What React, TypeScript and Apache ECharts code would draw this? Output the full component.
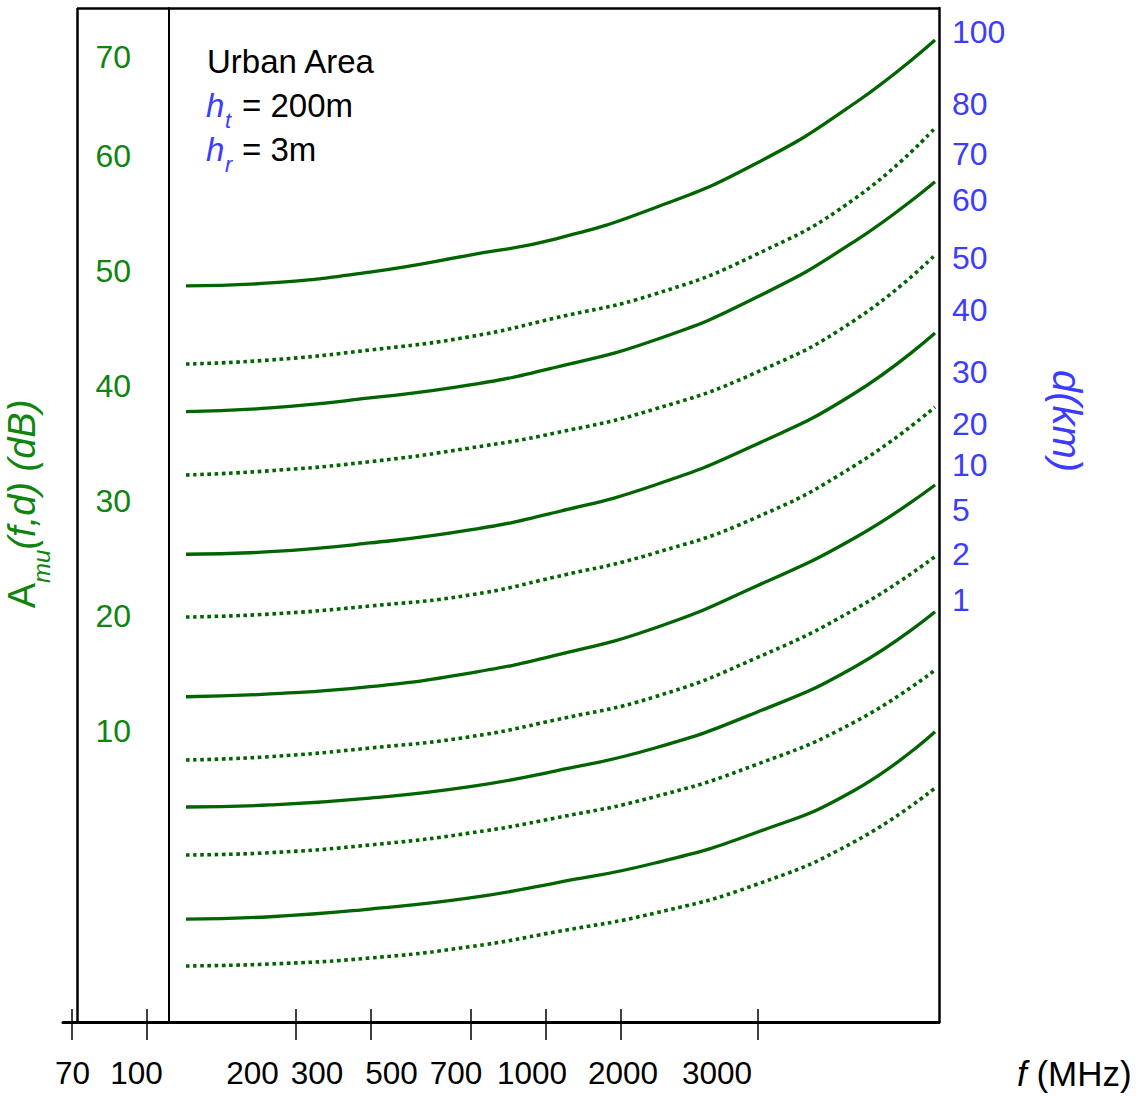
import React, { useEffect, useRef } from "react";
import * as echarts from "echarts";

// ---------- data ----------
// Horizontal position along the (non-linear) frequency axis, in axis units.
const curveX = [17, 101, 201, 301, 386, 486, 586, 686, 766];

// Median attenuation A_mu(f,d) in dB for each distance d (km)
const d100 = [48.7, 48.96, 49.91, 51.39, 52.78, 55.5, 59.3, 64.61, 70.09];
const d80 = [41.91, 42.26, 43.13, 44.29, 45.91, 48.0, 51.39, 56.3, 62.43];
const d70 = [37.77, 38.09, 38.96, 40.09, 41.61, 44.0, 47.65, 52.6, 57.77];
const d60 = [32.26, 32.63, 33.42, 34.61, 35.91, 38.0, 41.13, 45.74, 51.39];
const d50 = [25.37, 25.59, 26.35, 27.48, 29.0, 31.39, 34.87, 39.39, 44.61];
const d40 = [19.91, 20.17, 20.87, 21.83, 23.39, 25.48, 28.52, 33.1, 38.17];
const d30 = [12.98, 13.22, 13.85, 15.04, 16.57, 18.96, 22.55, 26.8, 31.39];
const d20 = [7.48, 7.77, 8.52, 9.5, 10.96, 12.98, 16.3, 20.6, 25.16];
const d10 = [3.39, 3.57, 4.17, 5.16, 6.52, 8.52, 11.57, 15.59, 20.37];
const d5 = [-0.78, -0.58, 0.09, 1.13, 2.43, 4.29, 7.04, 10.8, 15.3];
const d2 = [-6.35, -6.15, -5.48, -4.52, -3.22, -1.48, 1.13, 4.87, 9.94];
const d1 = [-10.43, -10.26, -9.74, -8.76, -7.48, -5.83, -3.39, 0.4, 5.04];

const distances = [100, 80, 70, 60, 50, 40, 30, 20, 10, 5, 2, 1];
const curves = [d100, d80, d70, d60, d50, d40, d30, d20, d10, d5, d2, d1];

// Frequency axis (MHz): tick marks and labels
const xTickPos = [-97, -22, 127, 202, 302, 377, 452, 589];
const xLabelText = ["70", "100", "200", "300", "500", "700", "1000", "2000", "3000"];
const xLabelPos = [-96.5, -32.5, 83.5, 148, 222.5, 287, 363, 454, 548];

// Left dB axis labels
const leftLabelText = ["10", "20", "30", "40", "50", "60", "70"];
const leftLabelPos = [10, 20, 30, 40, 50, 60, 68.6];

// Right distance axis labels (km)
const rightLabelText = ["100", "80", "70", "60", "50", "40", "30", "20", "10", "5", "2", "1"];
const rightLabelPos = [70.8, 64.5, 60.2, 56.2, 51.1, 46.6, 41.2, 36.7, 33.1, 29.2, 25.4, 21.4];

const X_MIN = -106;
const X_MAX = 770;
const Y_MIN = -15.304;
const Y_MAX = 72.87;
const BOX_LEFT = -92;

// ---------- styles ----------
const GREEN_TEXT = "#0f840f";
const GREEN_LINE = "#006400";
const BLUE = "#3c3cff";
const FONT = '"Liberation Sans", Arial, sans-serif';

const nearest = (vals: number[], texts: string[]) => (v: number) => {
  let bi = 0;
  for (let i = 1; i < vals.length; i++) {
    if (Math.abs(vals[i] - v) < Math.abs(vals[bi] - v)) bi = i;
  }
  return texts[bi];
};

function buildOption(): any {
  const series: any[] = curves.map((vals, i) => {
    const dotted = i % 2 === 1;
    return {
      name: `d = ${distances[i]} km`,
      type: "line",
      xAxisIndex: 0,
      yAxisIndex: 0,
      data: curveX.map((x, j) => [x, vals[j]]),
      smooth: true,
      showSymbol: false,
      silent: true,
      lineStyle: dotted
        ? { color: GREEN_LINE, width: 3.6, type: [3.6, 3.6], cap: "butt" }
        : { color: GREEN_LINE, width: 3.3, type: "solid" },
      z: 3,
    };
  });

  // frame of the plot box (top and left edges)
  series[0].markLine = {
    silent: true,
    symbol: "none",
    label: { show: false },
    lineStyle: { color: "#000", width: 2.5, type: "solid" },
    data: [
      [{ coord: [BOX_LEFT, Y_MAX] }, { coord: [X_MAX, Y_MAX] }],
      [{ coord: [BOX_LEFT, Y_MIN] }, { coord: [BOX_LEFT, Y_MAX] }],
    ],
  };

  return {
    animation: false,
    backgroundColor: "#fff",
    grid: { left: 63, right: 202, top: 8, bottom: 78, containLabel: false, outerBoundsMode: "none" },
    xAxis: [
      {
        type: "value",
        min: X_MIN,
        max: X_MAX,
        position: "bottom",
        name: "{f|f}{r| (MHz)}",
        nameLocation: "end",
        nameGap: 78,
        nameTextStyle: {
          padding: [102, 0, 0, 0],
          rich: {
            f: { fontFamily: FONT, fontSize: 35, fontStyle: "italic", color: "#000" },
            r: { fontFamily: FONT, fontSize: 35, color: "#000" },
          },
        },
        axisLine: { show: true, onZero: false, lineStyle: { color: "#000", width: 3 } },
        axisTick: {
          show: true,
          inside: false,
          length: 18,
          customValues: xTickPos,
          lineStyle: { color: "#000", width: 1.5 },
        },
        axisLabel: {
          show: true,
          customValues: xLabelPos,
          formatter: nearest(xLabelPos, xLabelText),
          fontFamily: FONT,
          fontSize: 31.5,
          color: "#000",
          margin: 35,
        },
        splitLine: { show: false },
      },
      {
        type: "value",
        min: X_MIN,
        max: X_MAX,
        position: "bottom",
        axisLine: { show: false, onZero: false },
        axisTick: {
          show: true,
          inside: true,
          length: 13,
          customValues: xTickPos,
          lineStyle: { color: "#000", width: 1.5 },
        },
        axisLabel: { show: false },
        splitLine: { show: false },
      },
    ],
    yAxis: [
      {
        type: "value",
        min: Y_MIN,
        max: Y_MAX,
        position: "left",
        offset: -106,
        name: "{a|A}{s|mu}{b|(f,d) (dB)}",
        nameLocation: "middle",
        nameGap: 116,
        nameRotate: 90,
        nameTextStyle: {
          padding: [0, 0, 0, 22],
          rich: {
            a: { fontFamily: FONT, fontSize: 38, color: GREEN_TEXT, lineHeight: 50, verticalAlign: "top" },
            s: { fontFamily: FONT, fontSize: 24, fontStyle: "italic", color: GREEN_TEXT, lineHeight: 24, verticalAlign: "bottom" },
            b: { fontFamily: FONT, fontSize: 38, fontStyle: "italic", color: GREEN_TEXT, lineHeight: 50, verticalAlign: "top" },
          },
        },
        axisLine: { show: true, onZero: false, lineStyle: { color: "#000", width: 2 } },
        axisTick: { show: false },
        axisLabel: {
          show: true,
          customValues: leftLabelPos,
          formatter: nearest(leftLabelPos, leftLabelText),
          fontFamily: FONT,
          fontSize: 32,
          color: GREEN_TEXT,
          margin: 38,
        },
        splitLine: { show: false },
      },
      {
        type: "value",
        min: Y_MIN,
        max: Y_MAX,
        position: "right",
        name: "d(km)",
        nameLocation: "middle",
        nameGap: 108,
        nameRotate: -90,
        nameTextStyle: {
          fontFamily: FONT,
          fontSize: 40,
          fontStyle: "italic",
          color: BLUE,
          padding: [0, 188, 0, 0],
        },
        axisLine: { show: true, onZero: false, lineStyle: { color: "#000", width: 2.5 } },
        axisTick: { show: false },
        axisLabel: {
          show: true,
          customValues: rightLabelPos,
          formatter: nearest(rightLabelPos, rightLabelText),
          fontFamily: FONT,
          fontSize: 32,
          color: BLUE,
          margin: 13,
        },
        splitLine: { show: false },
      },
    ],
    graphic: [
      {
        type: "text",
        x: 207,
        y: 61,
        style: { text: "Urban Area", font: `33px ${FONT}`, fill: "#000", verticalAlign: "middle", textVerticalAlign: "middle" },
      },
      {
        type: "text",
        x: 206,
        y: 105,
        style: { text: "h", font: `italic 33px ${FONT}`, fill: BLUE, verticalAlign: "middle", textVerticalAlign: "middle" },
      },
      {
        type: "text",
        x: 225,
        y: 120,
        style: { text: "t", font: `italic 22px ${FONT}`, fill: BLUE, verticalAlign: "middle", textVerticalAlign: "middle" },
      },
      {
        type: "text",
        x: 242,
        y: 105,
        style: { text: "= 200m", font: `33px ${FONT}`, fill: "#000", verticalAlign: "middle", textVerticalAlign: "middle" },
      },
      {
        type: "text",
        x: 206,
        y: 149,
        style: { text: "h", font: `italic 33px ${FONT}`, fill: BLUE, verticalAlign: "middle", textVerticalAlign: "middle" },
      },
      {
        type: "text",
        x: 225,
        y: 164,
        style: { text: "r", font: `italic 22px ${FONT}`, fill: BLUE, verticalAlign: "middle", textVerticalAlign: "middle" },
      },
      {
        type: "text",
        x: 242,
        y: 149,
        style: { text: "= 3m", font: `33px ${FONT}`, fill: "#000", verticalAlign: "middle", textVerticalAlign: "middle" },
      },
    ],
    series,
  };
}

export default function App() {
  const ref = useRef<HTMLDivElement>(null);
  useEffect(() => {
    document.body.style.margin = "0";
    const chart = echarts.init(ref.current as HTMLDivElement, null, { renderer: "svg" });
    chart.setOption(buildOption());
    return () => {
      chart.dispose();
    };
  }, []);
  return <div ref={ref} style={{ width: 1141, height: 1100 }} />;
}
